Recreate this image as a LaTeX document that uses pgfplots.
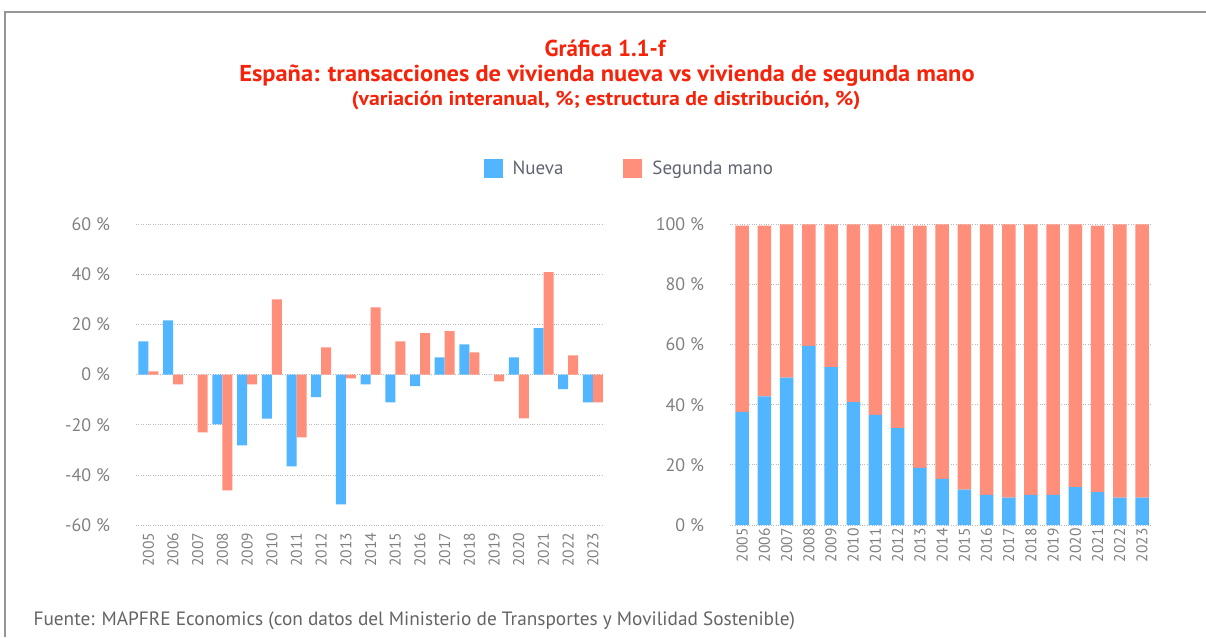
\documentclass[border=0pt]{standalone}
\usepackage{graphicx}
\usepackage{pgfplots}
\pgfplotsset{compat=1.18}
\usepackage{pgfplotstable}
\usepackage{fontspec}
\setmainfont{PT Sans}
\definecolor{nueva}{RGB}{81,181,255}
\definecolor{segunda}{RGB}{255,142,122}
\definecolor{titred}{RGB}{245,35,10}
\definecolor{tickgray}{RGB}{128,128,128}
\definecolor{leggray}{RGB}{95,100,112}
\definecolor{footgray}{RGB}{100,100,100}
\definecolor{gridgray}{RGB}{185,185,185}
\definecolor{framegray}{RGB}{150,150,150}

\pgfplotstableread{
idx nueva segunda
0 13.3 1.3
1 21.6 -3.9
2 0 -23.0
3 -19.8 -46.1
4 -28.2 -3.9
5 -17.5 30.0
6 -36.5 -25.0
7 -9.0 10.9
8 -51.7 -1.5
9 -3.9 26.8
10 -11.0 13.3
11 -4.6 16.5
12 6.9 17.3
13 12.1 8.9
14 0 -2.7
15 6.9 -17.4
16 18.5 40.8
17 -5.8 7.7
18 -11.0 -11.0
}\vartable

\pgfplotstableread{
idx nueva segunda
0 37.6 62.0
1 42.8 56.8
2 49.0 51.0
3 59.6 40.4
4 52.5 47.5
5 40.9 59.1
6 36.6 63.4
7 32.2 67.4
8 19.0 80.6
9 15.3 84.7
10 11.8 88.2
11 10.0 90.0
12 9.1 90.9
13 10.0 90.0
14 10.0 90.0
15 12.6 87.4
16 10.9 88.7
17 9.1 90.9
18 9.1 90.9
}\estrtable

\pgfplotsset{
  common/.style={
    scale only axis,
    axis line style={draw=none},
    major tick style={draw=none},
    ymajorgrids,
    grid style={gridgray, dotted, line width=0.9pt},
    xtick={0,...,18},
    xticklabels={2005,2006,2007,2008,2009,2010,2011,2012,2013,2014,2015,2016,2017,2018,2019,2020,2021,2022,2023},
    xticklabel style={rotate=90, anchor=east, font=\fontsize{15.5}{16}\selectfont, text=tickgray},
    yticklabel style={font=\fontsize{18}{20}\selectfont, text=tickgray, xshift=-22.5pt},
    yticklabel={\pgfmathprintnumber{\tick} \%},
    /pgf/number format/assume math mode=true,
    clip=false,
  }
}

\begin{document}
\begin{tikzpicture}[x=1pt,y=1pt]
\path[use as bounding box] (0,0) rectangle (1206,637);
\draw[framegray, line width=1.2pt] (5,0) -- (5,625) -- (1206,625);
\coordinate (LA) at (136,111.7);
\coordinate (RA) at (730,112);

\node[anchor=base, text=titred, font=\fontsize{23}{26}\selectfont\bfseries] at (605,580.7) {Gráfica 1.1-f};
\node[anchor=base, text=titred, font=\fontsize{23}{26}\selectfont\bfseries] at (607,555.3) {\scalebox{1.062}[1]{España: transacciones de vivienda nueva vs vivienda de segunda mano}};
\node[anchor=base, text=titred, font=\fontsize{20}{22}\selectfont\bfseries] at (606,531) {\scalebox{1.09}[1]{(variación interanual, \%; estructura de distribución, \%)}};

\begin{axis}[common,
  at={(LA)}, anchor=south west,
  width=468pt, height=301.3pt,
  xmin=-0.5, xmax=18.45,
  ymin=-60, ymax=60, ytick={-60,-40,...,60},
  ybar=0pt, bar width=10pt,
  legend columns=2,
  legend style={at={(1.054,1.183)}, anchor=center, draw=none, fill=none,
    font=\fontsize{19}{22}\selectfont, text=leggray,
    /tikz/every even column/.append style={column sep=58pt},
    /tikz/every odd column/.append style={column sep=8pt}},
  legend image code/.code={\fill[#1, draw=none] (0pt,-9.5pt) rectangle (19pt,9.5pt);},
]
\addplot[fill=nueva, draw=none] table[x=idx, y=nueva] {\vartable};
\addplot[fill=segunda, draw=none] table[x=idx, y=segunda] {\vartable};
\legend{Nueva, Segunda mano}
\end{axis}

\begin{axis}[common,
  at={(RA)}, anchor=south west,
  width=422pt, height=300.7pt,
  xmin=-0.55, xmax=18.45,
  ymin=0, ymax=100, ytick={0,20,...,100},
  ybar stacked, bar width=13.5pt,
]
\addplot[fill=nueva, draw=none] table[x=idx, y=nueva] {\estrtable};
\addplot[fill=segunda, draw=none] table[x=idx, y=segunda] {\estrtable};
\end{axis}

\node[anchor=base west, text=footgray, font=\fontsize{19.3}{21}\selectfont] at (30,12) {Fuente: MAPFRE Economics (con datos del Ministerio de Transportes y Movilidad Sostenible)};
\end{tikzpicture}
\end{document}
